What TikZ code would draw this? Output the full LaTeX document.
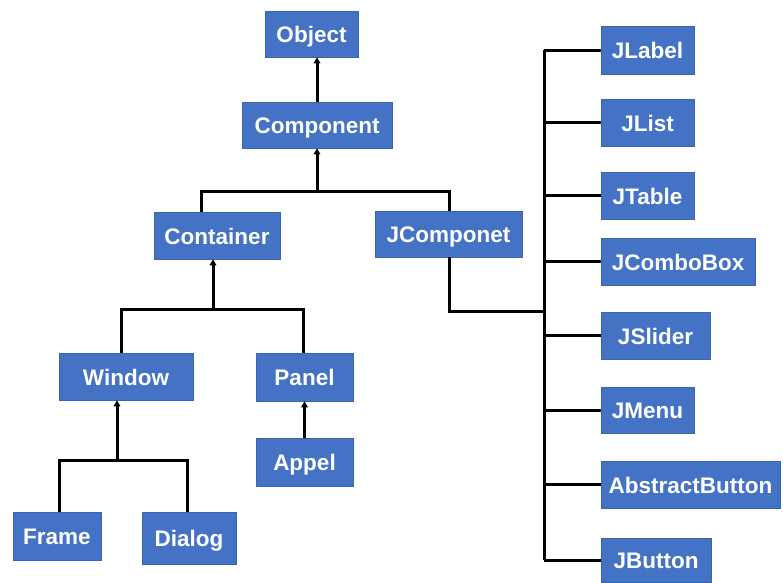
\documentclass[tikz,border=0pt]{standalone}
\usepackage{fontspec}
\setmainfont{Liberation Sans}
\usetikzlibrary{arrows.meta}
\definecolor{boxblue}{HTML}{4472C4}
\definecolor{boxedge}{HTML}{3A64B0}
\begin{document}
\begin{tikzpicture}[x=1pt,y=-1pt,
  cls/.style={draw=boxedge, line width=0.6pt, fill=boxblue, text=white,
    font=\fontsize{22.5}{25}\selectfont\bfseries, inner sep=0pt, anchor=center,
    text height=17pt, text depth=0pt},
  ln/.style={line width=3pt, black},
  arr/.style={ln, -{Triangle[length=6pt,width=6.5pt]}}]
\useasboundingbox (0,0) rectangle (783,582);
% left tree
\node[cls, minimum width=93pt, minimum height=46pt] (obj) at (311.5,34) {Object};
\node[cls, minimum width=150pt, minimum height=46pt] (comp) at (317,125) {Component};
\node[cls, minimum width=126pt, minimum height=47pt] (cont) at (217,235.5) {Container};
\node[cls, minimum width=147pt, minimum height=46pt] (jcomp) at (448.5,234) {JComponet};
\node[cls, minimum width=134pt, minimum height=47pt] (win) at (126,376.5) {Window};
\node[cls, minimum width=97pt, minimum height=48pt] (panel) at (304.5,377) {Panel};
\node[cls, minimum width=97pt, minimum height=48pt] (appel) at (304.5,462) {Appel};
\node[cls, minimum width=88pt, minimum height=48pt] (frame) at (57,536) {Frame};
\node[cls, minimum width=94pt, minimum height=52pt] (dialog) at (189,538) {Dialog};
% right column
\node[cls, minimum width=93pt, minimum height=48pt] (jlabel) at (647.5,50) {JLabel};
\node[cls, minimum width=93pt, minimum height=47pt] (jlist) at (647.5,122.5) {JList};
\node[cls, minimum width=93pt, minimum height=47pt] (jtable) at (647.5,195.5) {JTable};
\node[cls, minimum width=154pt, minimum height=47pt] (jcombo) at (678,261.5) {JComboBox};
\node[cls, minimum width=109pt, minimum height=47pt] (jslider) at (655.5,335.5) {JSlider};
\node[cls, minimum width=93pt, minimum height=46pt] (jmenu) at (647.5,410) {JMenu};
\node[cls, minimum width=179pt, minimum height=47pt] (abut) at (690.5,484.5) {AbstractButton};
\node[cls, minimum width=110pt, minimum height=44pt] (jbutton) at (656,560) {JButton};
% junction coordinates
\coordinate (b1L) at (201,191);
\coordinate (b1R) at (449,191);
\coordinate (b2C) at (213,309);
\coordinate (b2L) at (121,309);
\coordinate (b2R) at (303,309);
\coordinate (b3C) at (117,460);
\coordinate (b3L) at (59,460);
\coordinate (b3R) at (187,460);
\coordinate (jc) at (544,311);
\coordinate (rtop) at (544,50);
\coordinate (rbot) at (544,560);
% connectors
\draw[arr] (comp.north) -- (comp.north |- obj.south);
\draw[ln] (b1L |- cont.north) -- (b1L) -- (b1R) -- (b1R |- jcomp.north);
\draw[arr] (comp.south |- b1L) -- (comp.south);
\draw[ln] (b2L |- win.north) -- (b2L) -- (b2R) -- (b2R |- panel.north);
\draw[arr] (b2C) -- (b2C |- cont.south);
\draw[arr] (appel.north) -- (panel.south);
\draw[ln] (b3L |- frame.north) -- (b3L) -- (b3R) -- (b3R |- dialog.north);
\draw[arr] (b3C) -- (b3C |- win.south);
\draw[ln] (jcomp.south -| b1R) -- (b1R |- jc) -- (jc);
\draw[ln] (rtop) -- (rbot);
\foreach \n in {jlabel,jlist,jtable,jcombo,jslider,jmenu,abut,jbutton}
  \draw[ln] (\n.west -| rtop) -- (\n.west);
\end{tikzpicture}
\end{document}
